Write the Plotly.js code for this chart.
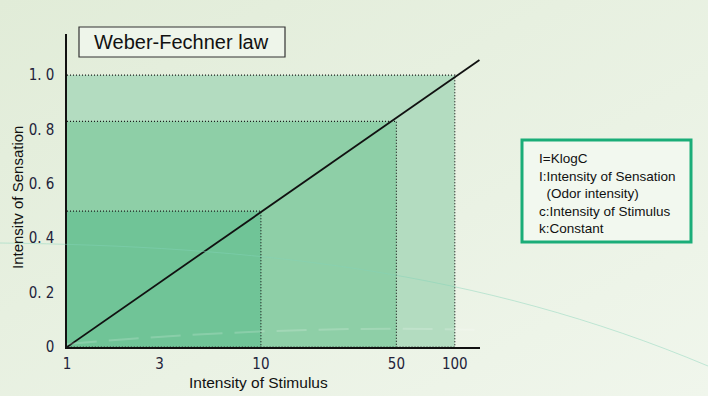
<!DOCTYPE html>
<html>
<head>
<meta charset="utf-8">
<script src="https://cdn.plot.ly/plotly-3.0.1.min.js"></script>
<style>html,body{margin:0;padding:0;background:#e8f1e0;}#chart{width:708px;height:396px;}</style>
</head>
<body>
<div id="chart"></div>
<script>
// ---- data ----
const stimulusLevels = [100, 50, 10];          // x of the shaded regions (outer to inner)
const sensationLevels = [1.0, 0.83, 0.5];      // y of the shaded regions
const lawLineX = [1, 134];
const lawLineY = [0, 1.055];
const xTickVals = [1, 3, 10, 50, 100];
const xTickText = ["1", "3", "10", "50", "100"];
const yTickVals = [0, 0.2, 0.4, 0.6, 0.8, 1.0];
const yTickText = ["0", "0. 2", "0. 4", "0. 6", "0. 8", "1. 0"];
const titleText = "Weber-Fechner law";
const infoLines = ["I=KlogC", "I:Intensity of Sensation", "  (Odor intensity)", "c:Intensity of Stimulus", "k:Constant"];

// ---- styling ----
const fillColors = ["#b3dcc0", "#8ecfa7", "#70c497"];
const W = 708, H = 396;
const L = 67, R = 480, T = 34, B = 347;
const px = x => (x - L) / (R - L);
const py = y => (B - y) / (B - T);

const traces = stimulusLevels.map((sx, i) => ({
  type: "scatter", mode: "lines",
  x: [1, sx, sx, 1], y: [sensationLevels[i], sensationLevels[i], 0, 0],
  fill: "toself", fillcolor: fillColors[i],
  line: {color: "#1e1e1e", width: 1.2, dash: "1px,2px"},
  hoverinfo: "skip", showlegend: false
}));
traces.push({
  type: "scatter", mode: "lines", x: lawLineX, y: lawLineY,
  line: {color: "#111", width: 1.8}, showlegend: false, hoverinfo: "skip"
});

const gradSvg = '<svg xmlns="http://www.w3.org/2000/svg" width="708" height="396"><defs><linearGradient id="g" x1="0" y1="0" x2="1" y2="1"><stop offset="0" stop-color="#e1ecd8"/><stop offset="1" stop-color="#f0f6ec"/></linearGradient></defs><rect width="708" height="396" fill="url(#g)"/></svg>';

const arcPath = `M ${px(0)},${py(243)} C ${px(250)},${py(246)} ${px(480)},${py(270)} ${px(708)},${py(366)}`;
const arcPath2 = `M ${px(67)},${py(344)} C ${px(200)},${py(332)} ${px(350)},${py(326)} ${px(480)},${py(330)}`;

const layout = {
  width: W, height: H,
  margin: {l: L, r: W - R, t: T, b: H - B, pad: 0},
  paper_bgcolor: "#e8f1e0", plot_bgcolor: "rgba(0,0,0,0)",
  images: [{source: "data:image/svg+xml;utf8," + encodeURIComponent(gradSvg),
    xref: "paper", yref: "paper", x: px(0), y: py(0), sizex: px(708) - px(0), sizey: py(0) - py(396),
    xanchor: "left", yanchor: "top", sizing: "stretch", layer: "below"}],
  xaxis: {type: "log", range: [0, 2.13], showgrid: false, zeroline: false,
    showline: true, linecolor: "#111", linewidth: 1.6, ticks: "",
    tickmode: "array", tickvals: xTickVals, ticktext: xTickText,
    tickfont: {family: "Liberation Sans Narrow, DejaVu Sans Condensed, Arial", size: 15, color: "#22223a"},
    ticklabelstandoff: 2, fixedrange: true},
  yaxis: {range: [0, 1.151], showgrid: false, zeroline: false,
    showline: true, linecolor: "#111", linewidth: 1.6, ticks: "",
    tickmode: "array", tickvals: yTickVals, ticktext: yTickText,
    tickfont: {family: "Liberation Sans Narrow, DejaVu Sans Condensed, Arial", size: 15, color: "#22223a"},
    ticklabelstandoff: 8, fixedrange: true},
  shapes: [
    {type: "path", path: arcPath, xref: "paper", yref: "paper", line: {color: "rgba(130,210,185,0.45)", width: 1}, layer: "above"},
    {type: "path", path: arcPath2, xref: "paper", yref: "paper", line: {color: "rgba(255,255,255,0.18)", width: 2, dash: "30px,12px"}, layer: "above"},
    {type: "rect", xref: "paper", yref: "paper", x0: px(79), x1: px(285), y0: py(57), y1: py(27),
      line: {color: "#333", width: 1.2}, fillcolor: "#eef5ea", layer: "above"},
    {type: "rect", xref: "paper", yref: "paper", x0: px(522), x1: px(691), y0: py(242), y1: py(140),
      line: {color: "#1aad78", width: 3}, fillcolor: "#f2f8ef", layer: "above"}
  ],
  annotations: [
    {xref: "paper", yref: "paper", x: px(181), y: py(42), text: titleText, showarrow: false,
      font: {family: "Liberation Sans, Arial", size: 20, color: "#111"}, xanchor: "center", yanchor: "middle"},
    {xref: "paper", yref: "paper", x: px(537), y: py(149), text: infoLines.join("<br>"), showarrow: false,
      align: "left", xanchor: "left", yanchor: "top",
      font: {family: "Liberation Sans, Arial", size: 13.5, color: "#111"}},
    {xref: "paper", yref: "paper", x: px(258), y: py(382), text: "Intensity of Stimulus", showarrow: false,
      font: {family: "Liberation Sans, Arial", size: 15.5, color: "#111"}, xanchor: "center", yanchor: "middle"},
    {xref: "paper", yref: "paper", x: px(18), y: py(198), text: "Intensitv of Sensation", showarrow: false, textangle: -90,
      font: {family: "Liberation Sans, Arial", size: 15, color: "#111"}, xanchor: "center", yanchor: "middle"}
  ]
};

Plotly.newPlot("chart", traces, layout, {displayModeBar: false, staticPlot: true});
</script>
</body>
</html>
